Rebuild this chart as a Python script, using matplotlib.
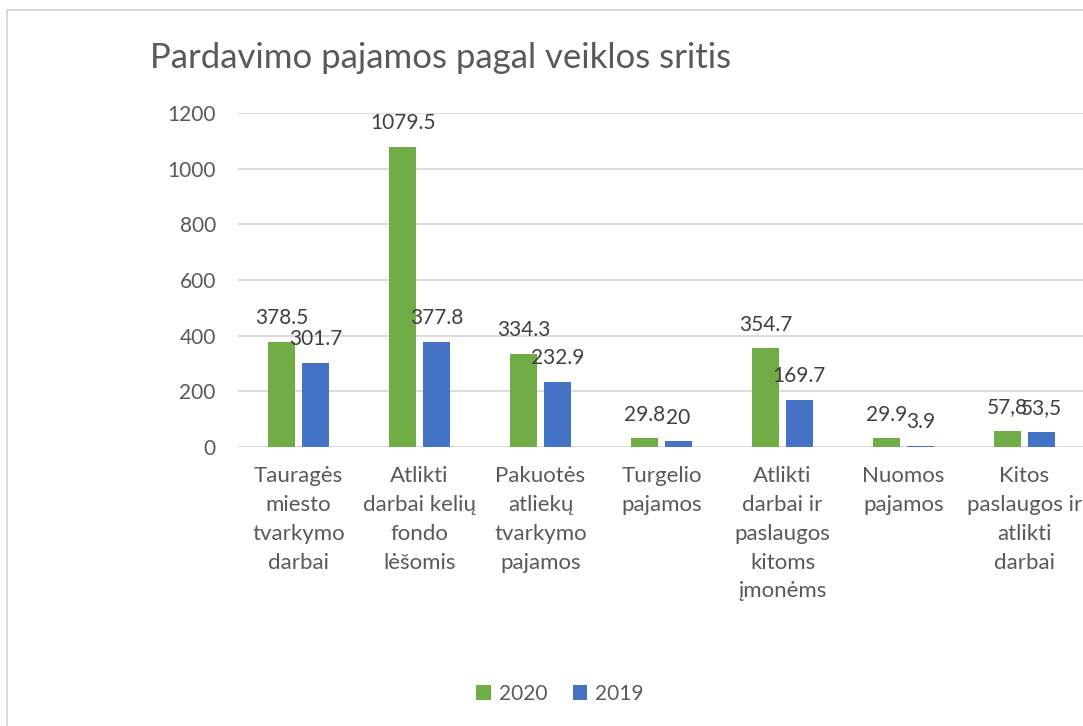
import numpy as np
import matplotlib
matplotlib.use("Agg")
import matplotlib.pyplot as plt
from matplotlib.patches import Rectangle

plt.rcParams['font.family'] = ['Lato', 'DejaVu Sans']

# duomenys
kategorijos = [
    "Tauragės\nmiesto\ntvarkymo\ndarbai",
    "Atlikti\ndarbai kelių\nfondo\nlėšomis",
    "Pakuotės\natliekų\ntvarkymo\npajamos",
    "Turgelio\npajamos",
    "Atlikti\ndarbai ir\npaslaugos\nkitoms\nįmonėms",
    "Nuomos\npajamos",
    "Kitos\npaslaugos ir\natlikti\ndarbai",
]
reiksmes_2020 = [378.5, 1079.5, 334.3, 29.8, 354.7, 29.9, 57.8]
reiksmes_2019 = [301.7, 377.8, 232.9, 20.0, 169.7, 3.9, 53.5]
etiketes_2020 = ["378.5", "1079.5", "334.3", "29.8", "354.7", "29.9", "57,8"]
etiketes_2019 = ["301.7", "377.8", "232.9", "20", "169.7", "3.9", "53,5"]
y_ticks = [0, 200, 400, 600, 800, 1000, 1200]

zalia = '#70AD47'
melyna = '#4472C4'
teksto = '#595959'
tinklelio = '#D9D9D9'

W, H = 1083, 726
fig = plt.figure(figsize=(W / 100, H / 100), dpi=100)

# rėmelis aplink diagramą
fig.patches.append(Rectangle((7 / W, -0.1), 1.2, 1 - 10 / H + 0.1,
                             transform=fig.transFigure, fill=False,
                             edgecolor=tinklelio, linewidth=1.5))

ax = fig.add_axes([238 / W, 279.3 / H, 847 / W, 333.4 / H])

x = np.arange(len(kategorijos))
plotis = 0.223
poslinkis = 0.14
b1 = ax.bar(x - poslinkis, reiksmes_2020, plotis, color=zalia, label='2020', zorder=3)
b2 = ax.bar(x + poslinkis, reiksmes_2019, plotis, color=melyna, label='2019', zorder=3)

for bars, labels in ((b1, etiketes_2020), (b2, etiketes_2019)):
    for rect, txt in zip(bars, labels):
        ax.annotate(txt, (rect.get_x() + rect.get_width() / 2, rect.get_height()),
                    xytext=(0, 17), textcoords='offset points',
                    ha='center', va='center', fontsize=15, color='#404040')

ax.set_xlim(-0.5, len(kategorijos) - 0.5)
ax.set_ylim(0, 1200)
ax.set_yticks(y_ticks)
ax.yaxis.grid(True, color=tinklelio, linewidth=1.3, zorder=0)
ax.set_axisbelow(True)
for s in ax.spines.values():
    s.set_visible(False)

ax.set_xticks(x)
ax.set_xticklabels(kategorijos, fontsize=16, color=teksto, linespacing=1.55)
ax.tick_params(axis='x', length=0, pad=14)
ax.tick_params(axis='y', length=0, pad=16, labelsize=15, labelcolor=teksto)

fig.text(150 / W, 1 - 58 / H, "Pardavimo pajamos pagal veiklos sritis",
         fontsize=25, color=teksto, ha='left', va='center')

fig.legend(loc='center', bbox_to_anchor=(560 / W, 1 - 694 / H), ncol=2,
           frameon=False, fontsize=15, labelcolor=teksto,
           handlelength=0.7, handleheight=0.7, handletextpad=0.4, columnspacing=1.2)

fig.savefig("out.png", dpi=100)
